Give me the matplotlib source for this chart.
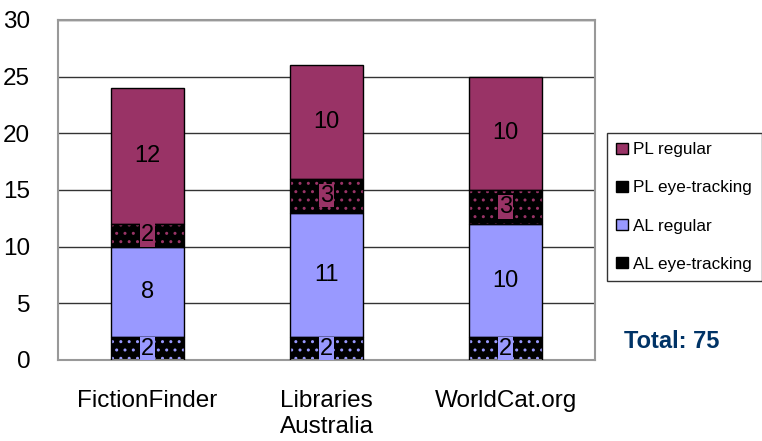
import matplotlib
matplotlib.use("Agg")
import matplotlib.pyplot as plt
from matplotlib.patches import Patch

plt.rcParams["font.family"] = ["Liberation Sans", "DejaVu Sans"]

sites = ["FictionFinder", "Libraries\nAustralia", "WorldCat.org"]
al_eye = [2, 2, 2]
al_reg = [8, 11, 10]
pl_eye = [2, 3, 3]
pl_reg = [12, 10, 10]

lavender = "#9999FF"
maroon = "#993366"

fig = plt.figure(figsize=(7.62, 4.41), dpi=100)
ax = fig.add_axes([0.076, 0.184, 0.705, 0.771])

x = list(range(len(sites)))
w = 0.405
bottom = [0] * len(sites)
series = [
    (al_eye, "AL eye-tracking", lavender, True),
    (al_reg, "AL regular", lavender, False),
    (pl_eye, "PL eye-tracking", maroon, True),
    (pl_reg, "PL regular", maroon, False),
]

handles = []
for vals, label, col, patterned in series:
    if patterned:
        ax.bar(x, vals, w, bottom=bottom, color="black", hatch="..",
               edgecolor=col, linewidth=0, zorder=2)
        ax.bar(x, vals, w, bottom=bottom, fill=False, edgecolor="black",
               linewidth=1, zorder=3)
        handles.append(Patch(facecolor="black", edgecolor="black", label=label))
    else:
        ax.bar(x, vals, w, bottom=bottom, color=col, edgecolor="black",
               linewidth=1, zorder=2)
        handles.append(Patch(facecolor=col, edgecolor="black", label=label))
    for xi, b, v in zip(x, bottom, vals):
        ax.text(xi, b + v / 2, str(v), ha="center", va="center", fontsize=17,
                zorder=4,
                bbox=dict(facecolor=col, edgecolor="none", pad=0.5))
    bottom = [b + v for b, v in zip(bottom, vals)]

ax.set_xlim(-0.5, 2.5)
ax.set_ylim(0, 30)
ax.set_yticks(range(0, 31, 5))
ax.set_xticks(x)
ax.set_xticklabels(sites, fontsize=17.5)
ax.tick_params(axis="y", labelsize=17.5, length=0, pad=20)
ax.tick_params(axis="x", length=0, pad=22)
ax.yaxis.grid(True, color="#333333", linewidth=1, zorder=0)
ax.set_axisbelow(True)
for s in ax.spines.values():
    s.set_color("#999999")
    s.set_linewidth(1.5)

leg = fig.legend(handles=handles[::-1], loc="upper left",
                 bbox_to_anchor=(607 / 762, 1 - 133 / 441), fontsize=12.3,
                 frameon=True, fancybox=False, edgecolor="black",
                 handlelength=0.65, handleheight=0.65, handletextpad=0.35,
                 labelspacing=1.35, borderpad=0.55, borderaxespad=0)
leg.get_frame().set_linewidth(1)

fig.text(672 / 762, 1 - 341 / 441, "Total: 75", ha="center", va="center",
         fontsize=17, fontweight="bold", color="#003366")

fig.savefig("out.png", dpi=100)
